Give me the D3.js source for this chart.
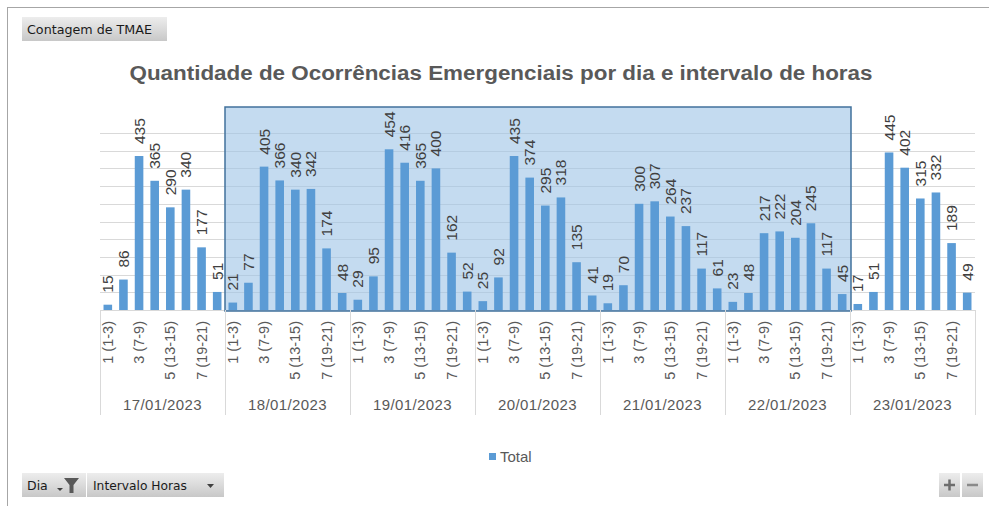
<!DOCTYPE html>
<html>
<head>
<meta charset="utf-8">
<script src="https://cdn.jsdelivr.net/npm/d3@7"></script>
<style>
  html, body { margin: 0; padding: 0; background: #fff; }
  svg { display: block; }
</style>
</head>
<body>
<svg id="chart" width="989" height="506"></svg>
<script>
// ---- data ----
const days = ["17/01/2023", "18/01/2023", "19/01/2023", "20/01/2023", "21/01/2023", "22/01/2023", "23/01/2023"];
const intervals = ["1 (1-3)", "2 (4-6)", "3 (7-9)", "4 (10-12)", "5 (13-15)", "6 (16-18)", "7 (19-21)", "8 (22-24)"];
const shownIntervals = ["1 (1-3)", "3 (7-9)", "5 (13-15)", "7 (19-21)"];
const values17 = [15, 86, 435, 365, 290, 340, 177, 51];
const values18 = [21, 77, 405, 366, 340, 342, 174, 48];
const values19 = [29, 95, 454, 416, 365, 400, 162, 52];
const values20 = [25, 92, 435, 374, 295, 318, 135, 41];
const values21 = [19, 70, 300, 307, 264, 237, 117, 61];
const values22 = [23, 48, 217, 222, 204, 245, 117, 45];
const values23 = [17, 51, 445, 402, 315, 332, 189, 49];
const yTicks = [0, 50, 100, 150, 200, 250, 300, 350, 400, 450, 500];
const selectedDays = ["18/01/2023", "19/01/2023", "20/01/2023", "21/01/2023", "22/01/2023"];
const titleText = "Quantidade de Ocorrências Emergenciais por dia e intervalo de horas";
const seriesName = "Total";

const allValues = [values17, values18, values19, values20, values21, values22, values23];
const rows = [];
days.forEach((d, i) => intervals.forEach((iv, j) => rows.push({ day: d, interval: iv, key: d + "|" + iv, value: allValues[i][j] })));

// ---- layout ----
const svg = d3.select("#chart");
const plotLeft = 100, plotRight = 975, plotTop = 133, plotBase = 310;
const font = "'Liberation Sans', Arial, sans-serif";
const uiFont = "'DejaVu Sans', sans-serif";
const textGray = "#595959";

const x = d3.scaleBand().domain(rows.map(r => r.key)).range([plotLeft, plotRight]).paddingInner(0.45).paddingOuter(0.225);
const dayScale = d3.scaleBand().domain(days).range([plotLeft, plotRight]);
const y = d3.scaleLinear().domain([0, 500]).range([plotBase, plotTop]);

// outer frame
svg.append("rect").attr("x", 7.5).attr("y", 7.5).attr("width", 1000).attr("height", 520)
  .attr("fill", "none").attr("stroke", "#a6a6a6").attr("stroke-width", 1);

// gridlines
svg.append("g").selectAll("line").data(yTicks).join("line")
  .attr("x1", plotLeft).attr("x2", plotRight)
  .attr("y1", d => Math.round(y(d)) + 0.5).attr("y2", d => Math.round(y(d)) + 0.5)
  .attr("stroke", "#d9d9d9").attr("stroke-width", 1);

// selection highlight
const selX0 = dayScale(selectedDays[0]);
const selX1 = dayScale(selectedDays[selectedDays.length - 1]) + dayScale.bandwidth();
svg.append("rect").attr("x", selX0).attr("y", 107).attr("width", selX1 - selX0 + 1).attr("height", plotBase - 107 + 1)
  .attr("fill", "#9dc3e6").attr("fill-opacity", 0.6)
  .attr("stroke", "#41719c").attr("stroke-width", 1.5);

// bars
svg.append("g").selectAll("rect").data(rows).join("rect")
  .attr("x", d => x(d.key)).attr("width", x.bandwidth())
  .attr("y", d => y(d.value)).attr("height", d => plotBase - y(d.value))
  .attr("fill", "#5b9bd5");

// data labels
svg.append("g").selectAll("text").data(rows).join("text")
  .attr("transform", d => `translate(${x(d.key) + x.bandwidth() / 2 + 5.5},${y(d.value) - 12}) rotate(-90)`)
  .attr("font-family", font).attr("font-size", 15.5).attr("fill", "#404040")
  .attr("text-anchor", "start")
  .text(d => d.value);

// x axis: interval labels
svg.append("g").selectAll("text").data(rows.filter(r => shownIntervals.includes(r.interval))).join("text")
  .attr("transform", d => `translate(${x(d.key) + x.bandwidth() / 2 + 5},${plotBase + 11}) rotate(-90)`)
  .attr("font-family", font).attr("font-size", 14.5).attr("fill", textGray)
  .attr("text-anchor", "end")
  .text(d => d.interval);

// day separators
const sepX = days.map(d => dayScale(d)).concat([plotRight]);
svg.append("g").selectAll("line").data(sepX).join("line")
  .attr("x1", d => Math.round(d) + 0.5).attr("x2", d => Math.round(d) + 0.5)
  .attr("y1", plotBase).attr("y2", 415)
  .attr("stroke", "#d9d9d9").attr("stroke-width", 1);

// day labels
svg.append("g").selectAll("text").data(days).join("text")
  .attr("x", d => dayScale(d) + dayScale.bandwidth() / 2).attr("y", 410)
  .attr("font-family", font).attr("font-size", 15).attr("letter-spacing", 0.4).attr("fill", textGray)
  .attr("text-anchor", "middle")
  .text(d => d);

// title
svg.append("text").attr("x", 501).attr("y", 80)
  .attr("font-family", font).attr("font-size", 20).attr("font-weight", "bold").attr("fill", textGray)
  .attr("text-anchor", "middle").attr("textLength", 743).attr("lengthAdjust", "spacingAndGlyphs")
  .text(titleText);

// legend
svg.append("rect").attr("x", 489).attr("y", 453).attr("width", 7).attr("height", 7).attr("fill", "#5b9bd5");
svg.append("text").attr("x", 500).attr("y", 462)
  .attr("font-family", font).attr("font-size", 15).attr("fill", textGray).text(seriesName);

// ---- pivot buttons ----
const defs = svg.append("defs");
const grad = defs.append("linearGradient").attr("id", "btn").attr("x1", 0).attr("x2", 0).attr("y1", 0).attr("y2", 1);
grad.append("stop").attr("offset", "0%").attr("stop-color", "#ededed");
grad.append("stop").attr("offset", "100%").attr("stop-color", "#c8c8c8");

function button(x0, y0, w, h, label, tx, tlen) {
  svg.append("rect").attr("x", x0).attr("y", y0).attr("width", w).attr("height", h).attr("fill", "url(#btn)");
  if (label) {
    const t = svg.append("text").attr("x", tx).attr("y", y0 + h / 2 + 4.5)
      .attr("font-family", uiFont).attr("font-size", 12.5).attr("fill", "#1a1a1a")
      .text(label);
    if (tlen) t.attr("textLength", tlen).attr("lengthAdjust", "spacingAndGlyphs");
  }
}
button(22, 17, 145, 24, "Contagem de TMAE", 27, 125);
button(22, 473, 64, 24, "Dia", 27, null);
button(87, 473, 137, 24, "Intervalo Horas", 93, 94);

// funnel icon + small arrows
svg.append("path").attr("d", "M64,478 L79,478 L73.5,485 L73.5,493 L69.5,493 L69.5,485 Z").attr("fill", "#595959");
svg.append("path").attr("d", "M57,488 L63,488 L60,491 Z").attr("fill", "#404040");
svg.append("path").attr("d", "M207,484 L214,484 L210.5,488 Z").attr("fill", "#404040");

// +/- buttons
button(939, 473, 21, 24, null);
button(962, 473, 21, 24, null);
svg.append("path").attr("d", "M944,485 L955,485 M949.5,479.5 L949.5,490.5").attr("stroke", "#6d6d6d").attr("stroke-width", 2.5);
svg.append("path").attr("d", "M967,485 L978,485").attr("stroke", "#8a8a8a").attr("stroke-width", 2.5);
</script>
</body>
</html>
